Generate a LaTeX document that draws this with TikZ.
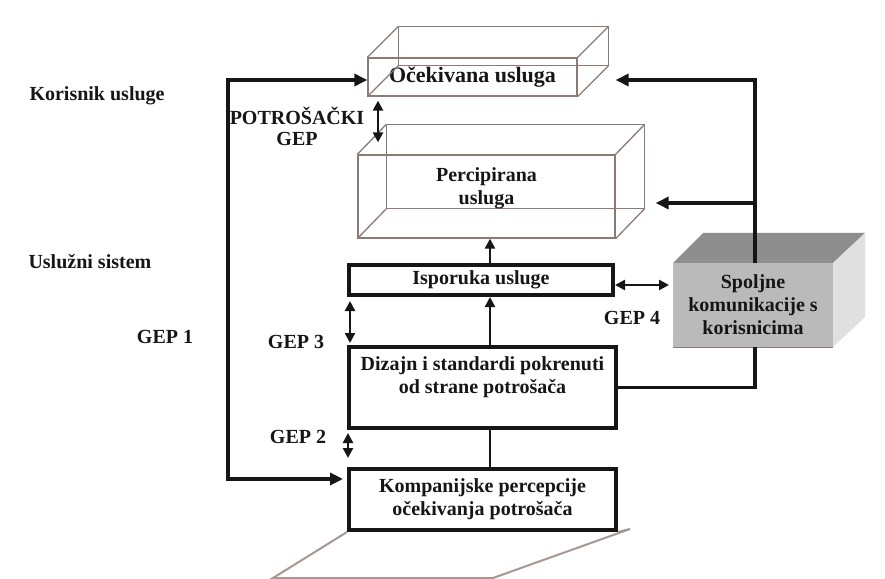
\documentclass[tikz,border=0pt]{standalone}
\usepackage{fontspec}
\setmainfont{Liberation Serif}
\usetikzlibrary{arrows.meta,calc}

\definecolor{ink}{RGB}{22,22,22}
\definecolor{wire}{RGB}{140,122,116}
\definecolor{floorline}{RGB}{168,152,147}
\definecolor{cubefront}{RGB}{186,186,186}
\definecolor{cubetop}{RGB}{142,142,142}
\definecolor{cubeside}{RGB}{224,224,224}

\tikzset{
  bigtip/.tip={Triangle[length=13bp,width=12bp]},
  smalltip/.tip={Triangle[length=10bp,width=10bp]},
}

\begin{document}
\begin{tikzpicture}[x=1bp,y=-1bp,
  every node/.style={font=\bfseries\fontsize{20bp}{23bp}\selectfont, text=ink},
  wirebox/.style={draw=wire, line width=1.3bp, inner sep=0pt},
  wireline/.style={draw=wire, line width=1.3bp},
  heavybox/.style={draw=ink, line width=4bp, inner sep=0pt, align=center},
  thickline/.style={draw=ink, line width=3.8bp},
  thinarrow/.style={draw=ink, line width=2.4bp},
]
\useasboundingbox (0,0) rectangle (885,579);
\fill[white] (0,0) rectangle (885,579);

% side labels
\node[anchor=west] (korisnik) at (26,96) {Korisnik usluge};
\node[anchor=west] (sistem) at (25,262) {Uslužni sistem};
\node (gep1) at (165,337) {GEP 1};
\node[align=center, font=\bfseries\fontsize{20bp}{21bp}\selectfont] (potro) at (297,126) {POTROŠAČKI\\GEP};
\node (gep3) at (296,342) {GEP 3};
\node (gep2) at (298,437) {GEP 2};
\node (gep4) at (632,318) {GEP 4};

% expected service: wire-frame box
\node[wirebox, minimum width=209bp, minimum height=38bp,
      font=\bfseries\fontsize{22bp}{24bp}\selectfont] (ocek) at (472.5,77) {Očekivana usluga};
\draw[wireline] ($(ocek.north west)+(31,-31)$) rectangle ($(ocek.south east)+(31,-31)$);
\foreach \c in {north west,north east,south east,south west}
  \draw[wireline] (ocek.\c) -- ++(31,-31);

% perceived service: wire-frame box
\node[wirebox, minimum width=257bp, minimum height=83bp] (perc) at (486.5,196.5) {};
\draw[wireline] ($(perc.north west)+(29,-30)$) rectangle ($(perc.south east)+(29,-30)$);
\foreach \c in {north west,north east,south east,south west}
  \draw[wireline] (perc.\c) -- ++(29,-30);
\node[align=center] (perctext) at (486.5,188.5) {Percipirana\\usluga};

% service system boxes
\node[heavybox, minimum width=264bp, minimum height=30bp] (ispo) at (481,280) {Isporuka usluge};
\node[heavybox, minimum width=267bp, minimum height=81bp] (dizajn) at (482.5,387.5) {};
\node[align=center] (dizajntext) at (482.5,377) {Dizajn i standardi pokrenuti\\od strane potrošača};
\node[heavybox, minimum width=267bp, minimum height=61bp] (komp) at (482.5,499.5)
  {Kompanijske percepcije\\očekivanja potrošača};

% floor under the company box
\draw[floorline, line width=2bp] (komp.south west) -- (273,578) -- (493,578) -- (630,529) -- (komp.south east);

% external communications: shaded solid box
\node[fill=cubefront, minimum width=160bp, minimum height=84bp, inner sep=0pt, outer sep=0pt,
      align=center] (spol) at (753,305) {Spoljne\\komunikacije s\\korisnicima};
\fill[cubetop] (spol.north west) -- ++(30,-30) -- ($(spol.north east)+(32,-30)$) -- (spol.north east) -- cycle;
\fill[cubeside] (spol.north east) -- ++(32,-30) -- ++(0,84) -- (spol.south east) -- cycle;
\draw[wire, line width=1bp] (spol.south west) -- (spol.south east);

% connector columns
\coordinate (g1) at (228,0);
\coordinate (rx) at (755,0);
\coordinate (mid) at (490,0);
\coordinate (g3) at (350,0);
\coordinate (g2) at (348,0);
\coordinate (pg) at (378,0);

% GEP 1 loop
\coordinate (oin) at ($(ocek.west)+(0,3)$);
\coordinate (kin) at ($(komp.west)+(-4,-20.5)$);
\draw[thickline, bigtip-bigtip] (oin) -- (oin -| g1) -- (kin -| g1) -- (kin);

% external communications feed expectations and perceptions
\coordinate (oright) at ($(ocek.east)+(38,3)$);
\coordinate (pright) at ($(perc.east)+(40,6.5)$);
\draw[thickline, -bigtip] (spol.north -| rx) |- (oright);
\draw[thickline, -bigtip] (pright -| rx) -- (pright);
\draw[thickline] (spol.south -| rx) |- (dizajn.east);

% GEP 4
\draw[thinarrow, smalltip-smalltip] ($(ispo.east)+(0,5)$) -- ($(spol.west |- ispo.east)+(-4,5)$);

% vertical flow
\draw[thinarrow, -smalltip] (ispo.north -| mid) -- (perc.south -| mid);
\draw[thinarrow, -smalltip] (dizajn.north -| mid) -- (ispo.south -| mid);
\draw[thinarrow] (komp.north -| mid) -- (dizajn.south -| mid);

% gap arrows
\draw[thinarrow, smalltip-smalltip, shorten <=4bp, shorten >=2bp] (ispo.south -| g3) -- (dizajn.north -| g3);
\draw[thinarrow, smalltip-smalltip, shorten <=3bp, shorten >=9bp] (dizajn.south -| g2) -- (komp.north -| g2);
\draw[thinarrow, smalltip-smalltip, shorten <=4bp, shorten >=12bp] (ocek.south -| pg) -- (perc.north -| pg);
\end{tikzpicture}
\end{document}
